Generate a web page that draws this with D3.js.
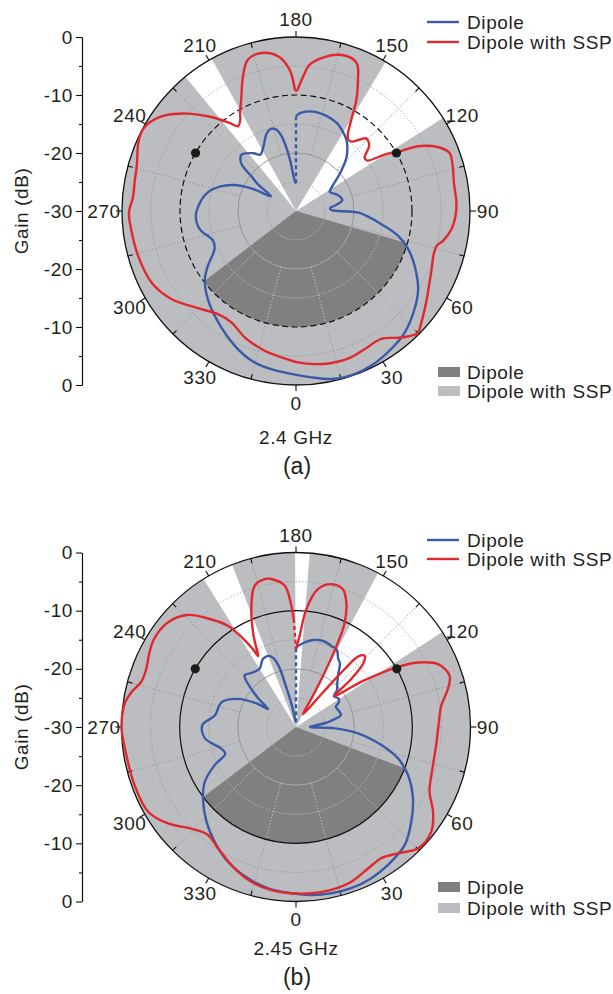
<!DOCTYPE html>
<html><head><meta charset="utf-8">
<script src="https://cdn.jsdelivr.net/npm/d3@7"></script>
<style>
html,body{margin:0;padding:0;background:#fff;}
svg text{font-family:"Liberation Sans",Arial,Helvetica,sans-serif;fill:#231f20;}
</style></head><body>
<svg id="chart" width="613" height="994"></svg>
<script>
// ---------------- data ----------------
const angleTicks = [0, 30, 60, 90, 120, 150, 180, 210, 240, 270, 300, 330];
const angleMinorTicks = [15, 45, 75, 105, 135, 165, 195, 225, 255, 285, 315, 345];
const gainMajorTop = [0, -10, -20, -30];
const gainMajorBottom = [0, -10, -20];
const gainMinor = [-5, -15, -25];
const gridGains = [-25, -15, -5];
const lineLegend = ["Dipole", "Dipole with SSP"];
const sectorLegend = ["Dipole", "Dipole with SSP"];
const titles = ["2.4 GHz", "2.45 GHz"];
const panelLabels = ["(a)", "(b)"];
const markerAngles = [120, 240];
const markerGain = -10;

// [angle (deg), gain (dB)] in drawing order
const dipole24 = [[180,-13.7],[177.7,-13.1],[170,-12.6],[162,-12.8],[155,-13.3],[149,-14.2],[144.5,-15.0],[137,-17.2],[130.6,-20.0],[124,-22.5],[119.6,-23.3],[112,-22.4],[108,-22.0],[103,-21.8],[98,-23.2],[95,-24.1],[91.5,-23.9],[89.5,-21.0],[88.5,-19.2],[85,-17.3],[82.2,-15.7],[76.4,-11.9],[71.3,-9.6],[65.3,-7.5],[57.4,-5.0],[50.5,-3.5],[41.9,-1.9],[34.6,-1.1],[26,-0.35],[18.6,-0.1],[11.9,-0.4],[5.3,-1.2],[358.3,-1.9],[351.1,-2.4],[343.4,-3.1],[335.5,-4.5],[325,-6.6],[315,-8.5],[306.7,-10.4],[301.9,-12.1],[295,-14.5],[289.7,-14.8],[280.6,-13.1],[273,-12.7],[267.5,-13.1],[258.8,-14.3],[252.3,-16.2],[247.5,-18.3],[243,-21.5],[239.5,-25.0],[235,-22.0],[232.2,-20.3],[229,-17.5],[224,-16.5],[216.5,-17.6],[212.4,-18.5],[207,-17.6],[200.7,-15.7],[197,-15.2],[193.5,-15.6],[191,-16.8],[189,-18.6],[186.7,-21.1],[182,-24.9],[180,-25.2]];
const ssp24 = [[179.5,-9.3],[176.4,-6.2],[174.7,-4.65],[169.5,-3.0],[165,-2.1],[160,-1.95],[157.3,-2.6],[154.7,-5.0],[151.5,-8.2],[148.8,-11.6],[146,-14.0],[143.5,-14.8],[141,-14.6],[138.5,-13.6],[136,-12.6],[133,-12.8],[131,-13.4],[128,-15.0],[125.5,-15.0],[122.2,-11.5],[120.3,-10.0],[118,-6.2],[114.3,-3.2],[110.7,-1.7],[105.9,-1.9],[100,-2.35],[93,-2.3],[88,-2.5],[83.4,-3.0],[78.6,-4.1],[76.1,-5.0],[72,-5.1],[68,-4.7],[61.9,-3.9],[55,-2.6],[48.4,-1.1],[44.8,-0.3],[39.8,-1.6],[33.7,-3.5],[26.5,-3.4],[19.4,-3.0],[13.1,-3.1],[7,-3.4],[0.8,-3.9],[354.3,-4.65],[347.4,-5.3],[337.9,-6.5],[329.9,-7.8],[322.9,-7.7],[316,-6.5],[305.2,-3.7],[296.3,-2.2],[285.8,-1.7],[276.2,-1.4],[270.5,-1.2],[265,-1.8],[259,-1.7],[254.5,-1.5],[246,-0.3],[241.5,-0.1],[235.3,-1.5],[228.4,-4.7],[222,-8.2],[217,-11.0],[214.4,-12.3],[211.5,-11.6],[209.5,-10.4],[206.2,-8.6],[201.5,-5.05],[197.6,-2.6],[192.4,-2.1],[186.6,-3.15],[182.6,-5.6],[180.5,-9.2]];
const dipole245 = [[180,-16.3],[174.2,-15.4],[168.8,-14.75],[162,-14.5],[156.5,-14.8],[152.1,-15.0],[148.3,-16.2],[145.4,-16.7],[140.7,-18.6],[136,-19.8],[132,-20.5],[129,-21.6],[124,-21.2],[120,-21.5],[117,-22.3],[110,-22.1],[105,-22.0],[99,-24.3],[94,-26.8],[90,-27.6],[88,-23.3],[84.2,-19.3],[78.1,-15.0],[72.9,-11.65],[66.8,-9.05],[58.6,-6.45],[50.6,-4.35],[42.6,-2.4],[33.7,-1.5],[26.5,-0.95],[18.9,-0.7],[12,-0.77],[5.2,-1.0],[358.4,-1.4],[350.2,-1.85],[342.4,-2.7],[333.2,-4.05],[324.7,-5.8],[316.6,-7.6],[307.5,-9.85],[301,-11.7],[295,-14.6],[290.7,-17.0],[285.9,-16.6],[277,-14.2],[268.8,-13.9],[262,-15.9],[251.7,-16.5],[244.2,-18.9],[238.8,-22.4],[237.3,-24.3],[233,-22.0],[229.6,-19.9],[225,-17.5],[219,-18.0],[212,-18.2],[206,-17.0],[201,-16.9],[198,-17.6],[195.5,-19.5],[194,-22.6],[191,-26.2],[185,-28.9],[180,-29.2]];
const ssp245 = [[180,-16.6],[177.7,-14.3],[175,-9.7],[171,-6.0],[166.1,-4.7],[161.2,-5.0],[158,-6.9],[155,-10.2],[153.6,-13.75],[152.3,-19.4],[151.5,-24.5],[151.5,-27.5],[143.2,-24.1],[141.2,-20.6],[140,-17.1],[138.5,-13.8],[136,-13.0],[133.5,-14.0],[131,-17.4],[129,-21.5],[124.5,-16.0],[120.7,-9.9],[117.9,-6.3],[113.9,-3.3],[108.5,-2.15],[104,-3.1],[98.4,-4.75],[90.5,-5.5],[82.7,-5.7],[74.5,-5.55],[64.2,-4.5],[58.3,-2.3],[52.3,-0.6],[45.2,-0.4],[38.9,-2.1],[33,-3.1],[27,-2.7],[19.7,-1.75],[12.2,-1.35],[5.3,-1.3],[358.4,-1.4],[351.4,-1.65],[343.9,-2.3],[336.5,-3.5],[327.3,-5.2],[320.8,-6.05],[314.1,-4.9],[307,-2.45],[299.8,-0.7],[289.8,-0.5],[276,-0.3],[270,0],[262,-0.3],[258,-1.1],[253.6,-2.3],[249,-2.4],[243.5,-1.8],[238.6,-1.3],[231.3,-1.5],[224.3,-3.1],[217.7,-6.75],[214,-9.0],[211,-12.1],[209,-14.6],[208,-16.2],[206,-14.0],[204.4,-12.1],[200.2,-7.8],[196.3,-4.7],[192,-4.0],[189.5,-4.2],[184.6,-5.6],[182.2,-9.1],[181.2,-11.4]];

// sectors: [from angle, to angle] (deg)
const whiteSectors24 = [[209, 219.5], [122.3, 149]];
const whiteSectors245 = [[201.5, 212], [123, 152], [175.5, 180.3]];
const darkSector24 = [-52.6, 73.9];
const darkSector245 = [-53, 69.2];
const darkSectorGain = -10;

// ---------------- drawing ----------------
const LIGHT = "#bcbdc0", DARK = "#808080", BLUE = "#3a5aa8", RED = "#e0282e";
const FS = 19, LS = 0.6;
const svg = d3.select("#chart");
const rad = d => d * Math.PI / 180;
const toA = th => Math.PI - rad(th);

const panels = [
  {cx: 296, cy: 211, R: 174, dipole: dipole24, ssp: ssp24, white: whiteSectors24, dark: darkSector24, dashedRing: true,
   title: titles[0], label: panelLabels[0], titleY: 437, labelY: 466, legY: [22, 42], sLegY: [372, 391]},
  {cx: 296, cy: 727, R: 174.5, dipole: dipole245, ssp: ssp245, white: whiteSectors245, dark: darkSector245, dashedRing: false,
   title: titles[1], label: panelLabels[1], titleY: 948, labelY: 977, legY: [540, 559], sLegY: [887, 908]}
];

panels.forEach((p, i) => {
  const g = svg.append("g").attr("transform", `translate(${p.cx},${p.cy})`);
  const R = p.R;
  const r = d3.scaleLinear().domain([-30, 0]).range([0, R]);
  const arc = d3.arc();

  g.append("circle").attr("r", R).attr("fill", LIGHT);
  p.white.forEach(([t1, t2]) => {
    g.append("path").attr("d", arc({innerRadius: 0, outerRadius: R, startAngle: toA(t2), endAngle: toA(t1)})).attr("fill", "#fff");
  });
  const darkD = arc({innerRadius: 0, outerRadius: r(darkSectorGain), startAngle: toA(p.dark[1]), endAngle: toA(p.dark[0])});
  g.append("path").attr("d", darkD).attr("fill", DARK);

  const clipId = "darkclip" + i;
  svg.append("defs").append("clipPath").attr("id", clipId).append("path").attr("d", darkD);

  function grid(sel, color, ringColor) {
    gridGains.forEach(v => sel.append("circle").attr("r", r(v)).attr("fill", "none")
      .attr("stroke", color).attr("stroke-width", 0.9).attr("stroke-dasharray", "1.2,2"));
    sel.append("circle").attr("r", r(-20)).attr("fill", "none").attr("stroke", ringColor).attr("stroke-width", 0.9);
    angleMinorTicks.forEach(t => {
      const a = toA(t);
      sel.append("line")
        .attr("x1", r(-20) * Math.sin(a)).attr("y1", -r(-20) * Math.cos(a))
        .attr("x2", R * Math.sin(a)).attr("y2", -R * Math.cos(a))
        .attr("stroke", color).attr("stroke-width", 0.9).attr("stroke-dasharray", "1.2,2");
    });
  }
  grid(g.append("g"), "#8e8e8e", "#909090");
  grid(g.append("g").attr("clip-path", `url(#${clipId})`), "#c8c8c8", "#a8a8a8");

  // -10 dB ring
  g.append("circle").attr("r", r(-10)).attr("fill", "none").attr("stroke", "#111")
    .attr("stroke-width", 1.2).attr("stroke-dasharray", p.dashedRing ? "6,3.5" : null);
  // outer ring
  g.append("circle").attr("r", R).attr("fill", "none").attr("stroke", "#111").attr("stroke-width", 1.3);

  // angular ticks
  angleTicks.forEach(t => {
    const a = toA(t);
    g.append("line").attr("x1", R * Math.sin(a)).attr("y1", -R * Math.cos(a))
      .attr("x2", (R + 6) * Math.sin(a)).attr("y2", -(R + 6) * Math.cos(a))
      .attr("stroke", "#111").attr("stroke-width", 1.1);
    g.append("text").attr("x", 192 * Math.sin(a)).attr("y", -192 * Math.cos(a)).attr("dy", "0.36em")
      .attr("text-anchor", "middle").attr("font-size", FS).attr("letter-spacing", LS).text(t);
  });
  angleMinorTicks.forEach(t => {
    const a = toA(t);
    g.append("line").attr("x1", R * Math.sin(a)).attr("y1", -R * Math.cos(a))
      .attr("x2", (R - 5) * Math.sin(a)).attr("y2", -(R - 5) * Math.cos(a))
      .attr("stroke", "#111").attr("stroke-width", 1.1);
  });

  // curves
  const line = d3.lineRadial().angle(d => toA(d[0])).radius(d => r(d[1])).curve(d3.curveCatmullRom.alpha(0.5));
  const straight = d3.lineRadial().angle(d => toA(d[0])).radius(d => r(d[1]));
  [[p.dipole, BLUE], [p.ssp, RED]].forEach(([data, col]) => {
    g.append("path").attr("d", line(data)).attr("fill", "none").attr("stroke", col)
      .attr("stroke-width", 2.4).attr("stroke-linejoin", "round");
    g.append("path").attr("d", straight([data[data.length - 1], data[0]])).attr("fill", "none")
      .attr("stroke", col).attr("stroke-width", 2.4).attr("stroke-dasharray", "4,3");
  });

  // markers
  markerAngles.forEach(t => {
    const a = toA(t);
    g.append("circle").attr("cx", r(markerGain) * Math.sin(a)).attr("cy", -r(markerGain) * Math.cos(a))
      .attr("r", 4.6).attr("fill", "#1a1a1a");
  });

  // gain axis
  const ax = svg.append("g").attr("transform", "translate(82,0)");
  const yTop = d3.scaleLinear().domain([-30, 0]).range([p.cy, p.cy - R]);
  const yBot = d3.scaleLinear().domain([-30, 0]).range([p.cy, p.cy + R]);
  const fmt = d => String(d);
  [ [yTop, gainMajorTop], [yBot, gainMajorBottom] ].forEach(([y, vals]) => {
    const a1 = ax.append("g").call(d3.axisLeft(y).tickValues(vals).tickSize(6).tickSizeOuter(0).tickPadding(3).tickFormat(fmt));
    const a2 = ax.append("g").call(d3.axisLeft(y).tickValues(gainMinor).tickSize(3).tickSizeOuter(0).tickFormat(""));
    [a1, a2].forEach(s => {
      s.attr("font-family", null).attr("font-size", null);
      s.selectAll("path,line").attr("stroke", "#111").attr("stroke-width", 1.1);
      s.selectAll("text").attr("font-size", FS).attr("letter-spacing", LS).attr("fill", "#231f20");
    });
  });
  svg.append("text").attr("transform", `translate(21,${p.cy}) rotate(-90)`).attr("dy", "0.36em")
    .attr("text-anchor", "middle").attr("font-size", FS).attr("letter-spacing", LS).text("Gain (dB)");

  // line legend
  [[BLUE, lineLegend[0]], [RED, lineLegend[1]]].forEach(([col, txt], k) => {
    svg.append("line").attr("x1", 427).attr("x2", 459).attr("y1", p.legY[k]).attr("y2", p.legY[k])
      .attr("stroke", col).attr("stroke-width", 2.4);
    svg.append("text").attr("x", 467).attr("y", p.legY[k]).attr("dy", "0.36em").attr("font-size", FS)
      .attr("letter-spacing", LS).text(txt);
  });
  // sector legend
  [[DARK, sectorLegend[0]], [LIGHT, sectorLegend[1]]].forEach(([col, txt], k) => {
    svg.append("rect").attr("x", 438).attr("y", p.sLegY[k] - 5).attr("width", 22).attr("height", 10).attr("fill", col);
    svg.append("text").attr("x", 467).attr("y", p.sLegY[k]).attr("dy", "0.36em").attr("font-size", FS)
      .attr("letter-spacing", LS).text(txt);
  });
  // titles
  svg.append("text").attr("x", 296).attr("y", p.titleY).attr("dy", "0.36em").attr("text-anchor", "middle")
    .attr("font-size", FS).attr("letter-spacing", LS).text(p.title);
  svg.append("text").attr("x", 297).attr("y", p.labelY).attr("dy", "0.36em").attr("text-anchor", "middle")
    .attr("font-size", 23).text(p.label);
});
</script>
</body></html>
